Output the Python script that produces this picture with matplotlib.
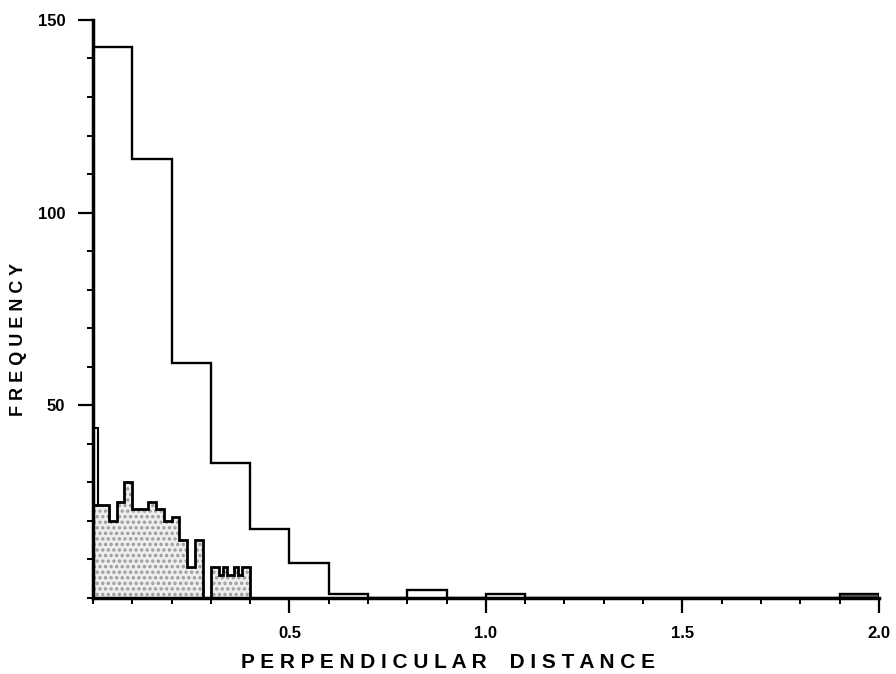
import numpy as np
import matplotlib
matplotlib.use("Agg")
import matplotlib.pyplot as plt
from matplotlib.ticker import MultipleLocator, FixedLocator

# All sightings, 0.1 bins from 0 to 2.0
all_edges = np.round(np.arange(0, 2.01, 0.1), 2)
all_counts = [143, 114, 61, 35, 18, 9, 1, 0, 2, 0,
              1, 0, 0, 0, 0, 0, 0, 0, 0, 1]

# Subsample, 0.02 bins from 0 to 0.30
sub_edges = np.round(np.arange(0, 0.301, 0.02), 2)
sub_counts = [24, 24, 20, 25, 30, 23, 23, 25, 23, 20, 21, 15, 8, 15, 0]

# Subsample tail, 0.01 bins from 0.30 to 0.40
tail_edges = np.round(np.arange(0.30, 0.401, 0.01), 2)
tail_counts = [8, 8, 6, 8, 6, 6, 8, 6, 8, 8]

# Narrow first bin of the finest grouping
first_edges = [0, 0.012]
first_count = [44]

plt.rcParams["hatch.linewidth"] = 1.6
plt.rcParams["hatch.color"] = "#9a9a9a"

fig = plt.figure(figsize=(8.96, 6.74), dpi=100)
ax = fig.add_axes([0.1038, 0.1128, 0.877, 0.8576])

stipple = dict(fill=True, facecolor="#eeeeee", edgecolor="#9a9a9a",
               hatch="...", linewidth=0)
ax.stairs(sub_counts, sub_edges, **stipple)
ax.stairs(tail_counts, tail_edges, **stipple)
ax.stairs(sub_counts, sub_edges, color="black", linewidth=2.0)
ax.stairs(tail_counts, tail_edges, color="black", linewidth=2.0)
ax.stairs(first_count, first_edges, baseline=sub_counts[0],
          color="black", linewidth=1.5)

ax.stairs(all_counts, all_edges, color="black", linewidth=1.7)
# last bin shown solid
ax.bar(all_edges[-2], all_counts[-1], width=0.1, align="edge",
       color="#555555", edgecolor="black", linewidth=1.2)

ax.set_xlim(0, 2.0)
ax.set_ylim(0, 150)

for side in ["top", "right"]:
    ax.spines[side].set_visible(False)
for side in ["left", "bottom"]:
    ax.spines[side].set_linewidth(2.5)

ax.xaxis.set_major_locator(FixedLocator([0.5, 1.0, 1.5, 2.0]))
ax.xaxis.set_minor_locator(MultipleLocator(0.1))
ax.yaxis.set_major_locator(FixedLocator([50, 100, 150]))
ax.yaxis.set_minor_locator(MultipleLocator(10))
ax.set_xticklabels(["0.5", "1.0", "1.5", "2.0"])
ax.set_yticklabels(["50", "100", "150"])

ax.tick_params(which="major", length=11, width=1.6, pad=9,
               labelsize=12, direction="out")
ax.tick_params(which="minor", length=4, width=1.4, direction="out")
for lab in ax.get_xticklabels() + ax.get_yticklabels():
    lab.set_fontfamily("Liberation Sans")
    lab.set_fontweight("bold")

ax.set_xlabel("P E R P E N D I C U L A R    D I S T A N C E",
              fontfamily="Liberation Sans", fontweight="bold",
              fontsize=15)
ax.xaxis.set_label_coords(0.452, -0.095)
ax.set_ylabel("F R E Q U E N C Y", fontfamily="Liberation Sans",
              fontweight="bold", fontsize=13)
ax.yaxis.set_label_coords(-0.084, 0.448)

fig.savefig("out.png", dpi=100)
